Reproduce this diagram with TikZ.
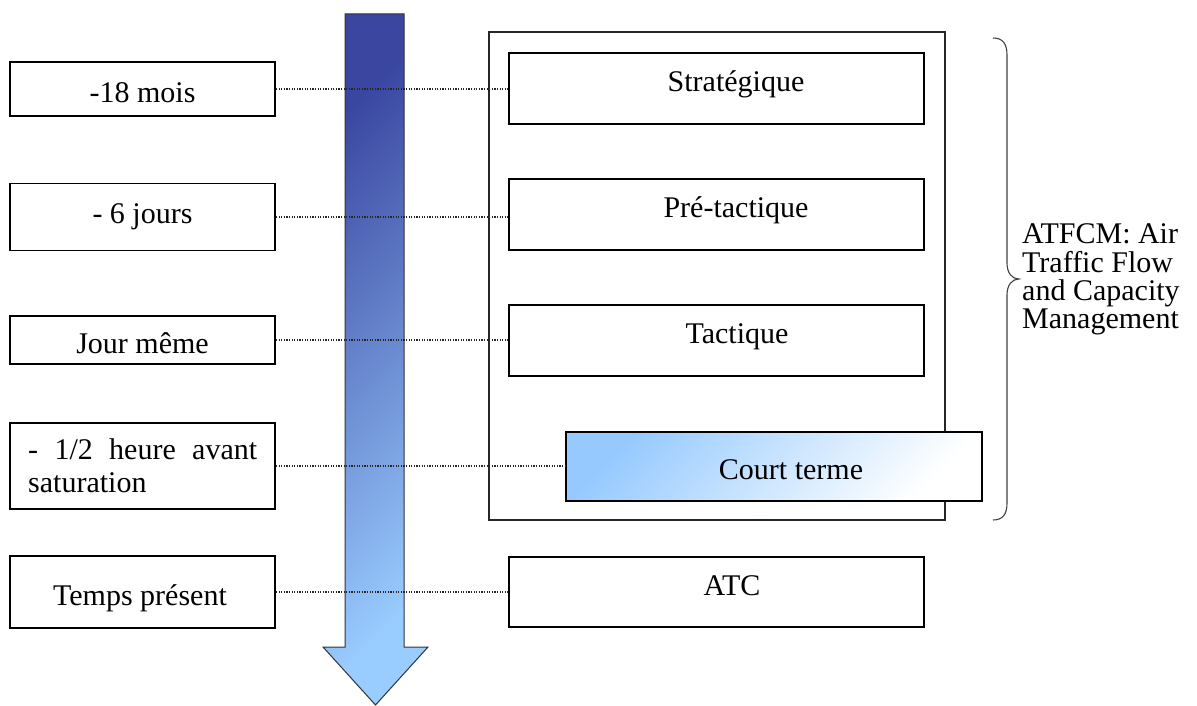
\documentclass[tikz,border=0pt]{standalone}
\usepackage{fontspec}
\setmainfont{Liberation Serif}
\definecolor{arrtop}{RGB}{58,70,160}
\definecolor{arrbot}{RGB}{153,204,255}
\definecolor{cblue}{RGB}{150,202,255}
\begin{document}
\begin{tikzpicture}[x=1pt,y=-1pt,
  box/.style={draw=black, line width=1.8pt, inner sep=0pt, fill=white},
  txt/.style={inner sep=0pt, font=\fontsize{30}{28.3}\selectfont},
  dotline/.style={line width=1.3pt, dash pattern=on 1.3pt off 1.3pt, black!85},
  brace/.style={line width=1.1pt, black!75}]
\useasboundingbox (0,0) rectangle (1197,706);
% time arrow
\path[draw=black!80, line width=1pt, top color=arrtop, bottom color=arrbot, shading angle=45]
  (345,14) -- (404,14) -- (404,647) -- (428,647) -- (375.5,705) -- (323,647) -- (345,647) -- cycle;
% container
\node[box, draw=black!85, fill=none, minimum width=456pt, minimum height=488pt] (cont) at (717,276) {};
% left boxes
\node[box, minimum width=265pt, minimum height=54pt] (m18) at (142.5,89) {};
\node[box, minimum width=265pt, minimum height=67pt] (m6) at (142.5,217) {};
\node[box, minimum width=265pt, minimum height=48pt] (jm) at (142.5,340) {};
\node[box, minimum width=265pt, minimum height=86pt] (hh) at (142.5,466) {};
\node[box, minimum width=265pt, minimum height=72pt] (tp) at (142.5,592) {};
% right boxes
\node[box, minimum width=415pt, minimum height=71pt] (st) at (716.5,88.5) {};
\node[box, minimum width=415pt, minimum height=71pt] (pt) at (716.5,214.5) {};
\node[box, minimum width=415pt, minimum height=71pt] (ta) at (716.5,340.5) {};
\node[box, minimum width=416pt, minimum height=69pt, top color=cblue, bottom color=white, shading angle=45] (ct) at (774,466.5) {};
\node[box, minimum width=415pt, minimum height=70pt] (atc) at (716.5,592) {};
% dotted connectors
\draw[dotline] (m18.east) -- (m18.east -| st.west);
\draw[dotline] (m6.east) -- (m6.east -| pt.west);
\draw[dotline] (jm.east) -- (jm.east -| ta.west);
\draw[dotline] (hh.east) -- (hh.east -| ct.west);
\draw[dotline] (tp.east) -- (tp.east -| atc.west);
% left texts
\node[txt, anchor=base] (tm18) at (142.5,103) {-18 mois};
\node[txt, anchor=base] (tm6) at (142.5,223) {- 6 jours};
\node[txt, anchor=base] (tjm) at (142.5,353) {Jour même};
\node[txt, anchor=base west] (thh1) at (28,459) {\makebox[229pt][s]{- 1/2 heure avant}};
\node[txt, anchor=base west] (thh2) at (28,492) {saturation};
\node[txt, anchor=base] (ttp) at (140,605) {Temps présent};
% right texts
\node[txt, anchor=base] (tst) at (736,92) {Stratégique};
\node[txt, anchor=base] (tpt) at (736,217) {Pré-tactique};
\node[txt, anchor=base] (tta) at (737,343) {Tactique};
\node[txt, anchor=base] (tct) at (791,479) {Court terme};
\node[txt, anchor=base] (tatc) at (732,595) {ATC};
% brace
\draw[brace] (993,38) .. controls (1003,38) and (1007,44) .. (1007,55) -- (1007,263)
  .. controls (1007,273) and (1012,279) .. (1019,279)
  .. controls (1012,279) and (1007,285) .. (1007,295) -- (1007,503)
  .. controls (1007,514) and (1003,520) .. (993,520);
\node[txt, anchor=base west] (at1) at (1022,243) {ATFCM: Air};
\node[txt, anchor=base west] (at2) at (1022,272) {Traffic Flow};
\node[txt, anchor=base west] (at3) at (1022,300) {and Capacity};
\node[txt, anchor=base west] (at4) at (1022,328) {Management};
\end{tikzpicture}
\end{document}
